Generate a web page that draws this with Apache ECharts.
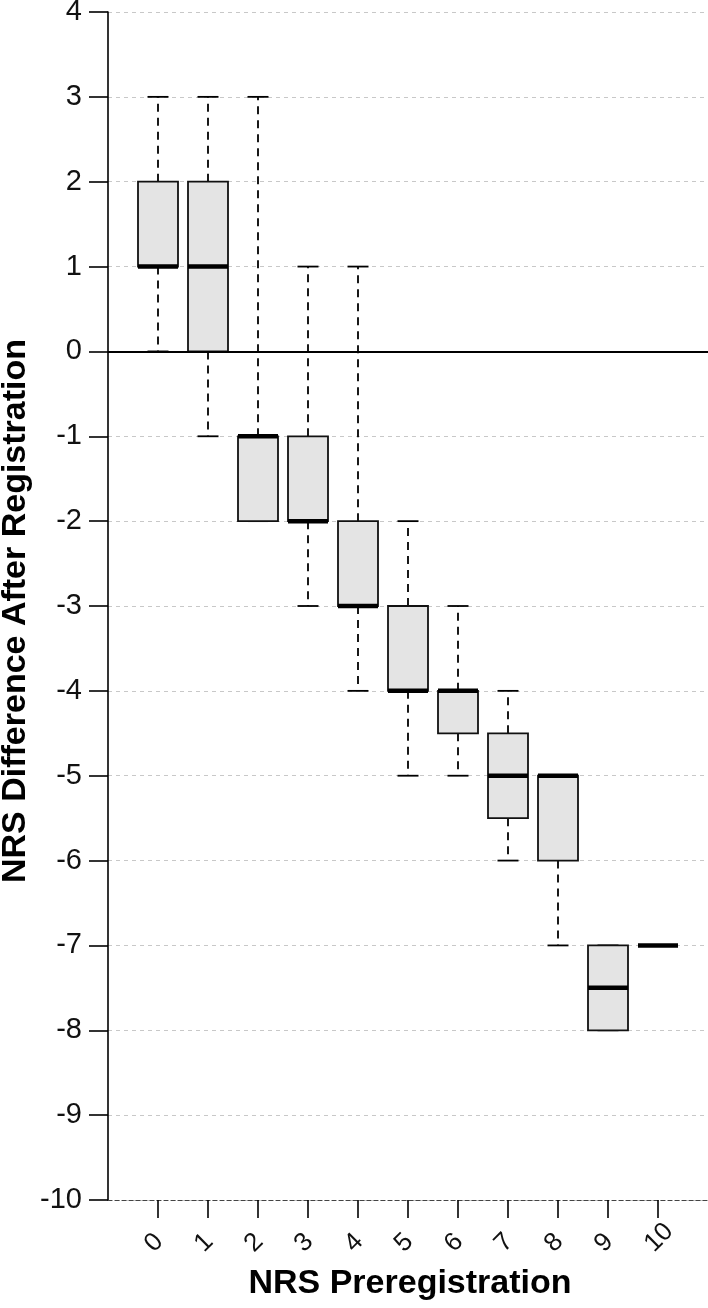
<!DOCTYPE html>
<html>
<head>
<meta charset="utf-8">
<script src="https://cdn.jsdelivr.net/npm/echarts@6/dist/echarts.min.js"></script>
<style>
html,body{margin:0;padding:0;background:#fff;}
#chart{width:708px;height:1308px;}
</style>
</head>
<body>
<div id="chart"></div>
<script>
// NRS preregistration categories
const categories = ['0','1','2','3','4','5','6','7','8','9','10'];
// box statistics per category
const mins    = [0, -1, -2, -3, -4, -5, -5,   -6,   -7, -8,   -7];
const q1s     = [1,  0, -2, -2, -3, -4, -4.5, -5.5, -6, -8,   -7];
const medians = [1,  1, -1, -2, -3, -4, -4,   -5,   -5, -7.5, -7];
const q3s     = [2,  2, -1, -1, -2, -3, -4,   -4.5, -5, -7,   -7];
const maxs    = [3,  3,  3,  1,  1, -2, -3,   -4,   -5, -7,   -7];
const yTicks  = {min: -10, max: 4, interval: 1};

const axisCats = [''].concat(categories, ['']);
const boxData = categories.map((c, i) => [i + 1, mins[i], q1s[i], medians[i], q3s[i], maxs[i]]);
const showInner = (idx) => idx > 0 && idx < axisCats.length - 1;

function renderItem(params, api) {
  const x = api.value(0);
  const c = (v) => api.coord([x, v]);
  const pMin = c(api.value(1)), pQ1 = c(api.value(2)), pMed = c(api.value(3)),
        pQ3 = c(api.value(4)), pMax = c(api.value(5));
  const cx = pMin[0];
  const bw = 40, cw = 21;
  const dashStyle = {stroke: '#000', lineWidth: 1.8, lineDash: [8, 6]};
  const solid = {stroke: '#000', lineWidth: 1.8};
  const children = [];
  if (pMin[1] !== pQ1[1]) children.push({type: 'line', shape: {x1: cx, y1: pQ1[1], x2: cx, y2: pMin[1]}, style: dashStyle});
  if (pMax[1] !== pQ3[1]) children.push({type: 'line', shape: {x1: cx, y1: pQ3[1], x2: cx, y2: pMax[1]}, style: dashStyle});
  children.push({type: 'line', shape: {x1: cx - cw / 2, y1: pMin[1], x2: cx + cw / 2, y2: pMin[1]}, style: solid});
  children.push({type: 'line', shape: {x1: cx - cw / 2, y1: pMax[1], x2: cx + cw / 2, y2: pMax[1]}, style: solid});
  children.push({type: 'rect', shape: {x: cx - bw / 2, y: pQ3[1], width: bw, height: pQ1[1] - pQ3[1]},
                 style: {fill: '#e4e4e4', stroke: '#111', lineWidth: 1.8}});
  children.push({type: 'line', shape: {x1: cx - bw / 2, y1: pMed[1], x2: cx + bw / 2, y2: pMed[1]},
                 style: {stroke: '#000', lineWidth: 4.5}});
  return {type: 'group', children};
}

const chart = echarts.init(document.getElementById('chart'), null, {renderer: 'canvas'});
chart.setOption({
  animation: false,
  backgroundColor: '#fff',
  textStyle: {fontFamily: 'Liberation Sans, Arial, sans-serif'},
  grid: {left: 108, right: 0, top: 12, bottom: 108, containLabel: false, outerBoundsMode: 'none'},
  xAxis: {
    type: 'category',
    data: axisCats,
    boundaryGap: false,
    axisLine: {show: true, onZero: false, lineStyle: {color: '#444', width: 1.2, type: [4, 3]}},
    axisTick: {show: true, length: 18, interval: (i) => showInner(i), lineStyle: {color: '#000', width: 1.6}},
    axisLabel: {
      show: true, interval: (i) => showInner(i), rotate: 45, align: 'left', verticalAlign: 'bottom',
      margin: 57, fontSize: 26, color: '#111', fontFamily: 'Liberation Sans, Arial, sans-serif'
    },
    splitLine: {show: false}
  },
  yAxis: {
    type: 'value',
    min: yTicks.min, max: yTicks.max, interval: yTicks.interval,
    axisLine: {show: true, lineStyle: {color: '#000', width: 1.6}},
    axisTick: {show: true, length: 19, lineStyle: {color: '#000', width: 1.6}},
    axisLabel: {fontSize: 29, margin: 26, color: '#111', fontFamily: 'Liberation Sans, Arial, sans-serif'},
    splitLine: {show: true, lineStyle: {color: '#c8c8c8', width: 1, type: [4, 4]}}
  },
  graphic: [
    {type: 'text', x: 16, y: 611, rotation: Math.PI / 2,
     style: {text: 'NRS Difference After Registration', fontSize: 34, fontWeight: 'bold',
             fontFamily: 'Liberation Sans, Arial, sans-serif', fill: '#000', textAlign: 'center', textVerticalAlign: 'middle'}},
    {type: 'text', x: 410, y: 1284,
     style: {text: 'NRS Preregistration', fontSize: 34, fontWeight: 'bold',
             fontFamily: 'Liberation Sans, Arial, sans-serif', fill: '#000', textAlign: 'center', textVerticalAlign: 'middle'}}
  ],
  series: [{
    type: 'custom',
    renderItem: renderItem,
    data: boxData,
    encode: {x: 0, y: [1, 2, 3, 4, 5]},
    clip: false,
    markLine: {
      silent: true, symbol: 'none', animation: false,
      label: {show: false},
      lineStyle: {color: '#000', type: 'solid', width: 1.8},
      data: [{yAxis: 0}]
    }
  }]
});
</script>
</body>
</html>
